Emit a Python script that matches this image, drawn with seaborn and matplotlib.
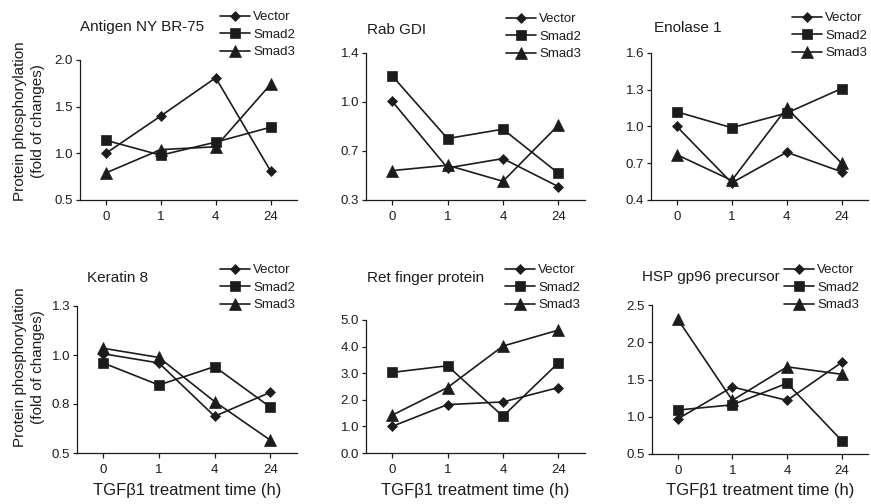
import numpy as np
import pandas as pd
import matplotlib
matplotlib.use("Agg")
import matplotlib.pyplot as plt
import seaborn as sns

# ---------------- data ----------------
times = ["0", "1", "4", "24"]
groups = ["Vector", "Smad2", "Smad3"]

antigen_vector = [1.00, 1.40, 1.81, 0.81]
antigen_smad2 = [1.14, 0.98, 1.12, 1.28]
antigen_smad3 = [0.79, 1.04, 1.07, 1.74]

rab_vector = [1.04, 0.54, 0.61, 0.40]
rab_smad2 = [1.23, 0.76, 0.83, 0.50]
rab_smad3 = [0.52, 0.56, 0.44, 0.86]

enolase_vector = [1.00, 0.54, 0.79, 0.63]
enolase_smad2 = [1.12, 0.99, 1.11, 1.31]
enolase_smad3 = [0.77, 0.56, 1.15, 0.70]

keratin_vector = [1.04, 0.99, 0.70, 0.83]
keratin_smad2 = [0.99, 0.87, 0.97, 0.75]
keratin_smad3 = [1.07, 1.02, 0.78, 0.57]

ret_vector = [1.00, 1.82, 1.92, 2.46]
ret_smad2 = [3.03, 3.28, 1.38, 3.39]
ret_smad3 = [1.42, 2.46, 4.02, 4.62]

hsp_vector = [0.97, 1.40, 1.22, 1.73]
hsp_smad2 = [1.09, 1.16, 1.45, 0.68]
hsp_smad3 = [2.31, 1.22, 1.67, 1.57]

titles = ["Antigen NY BR-75", "Rab GDI", "Enolase 1",
          "Keratin 8", "Ret finger protein", "HSP gp96 precursor"]
series = [
    [antigen_vector, antigen_smad2, antigen_smad3],
    [rab_vector, rab_smad2, rab_smad3],
    [enolase_vector, enolase_smad2, enolase_smad3],
    [keratin_vector, keratin_smad2, keratin_smad3],
    [ret_vector, ret_smad2, ret_smad3],
    [hsp_vector, hsp_smad2, hsp_smad3],
]

rows = []
for title, vals in zip(titles, series):
    for g, v in zip(groups, vals):
        for i, t in enumerate(times):
            rows.append({"panel": title, "group": g, "time": t, "pos": i, "value": v[i]})
df = pd.DataFrame(rows)

# ---------------- style ----------------
sns.set_style("ticks")
plt.rcParams["font.family"] = ["Liberation Sans", "DejaVu Sans"]
ink = "#1c1c1c"
plt.rcParams["text.color"] = ink
plt.rcParams["axes.edgecolor"] = ink
plt.rcParams["xtick.color"] = ink
plt.rcParams["ytick.color"] = ink

W, H = 871, 504
fig = plt.figure(figsize=(W / 100, H / 100), dpi=100)


def px_rect(l, t, r, b):
    return [l / W, 1 - b / H, (r - l) / W, (b - t) / H]


# axes boxes in pixels (left, top, right, bottom)
boxes = [(80, 60, 297, 200), (366, 53, 585, 200), (651, 53, 868, 200),
         (77, 306, 297, 453), (366, 320, 585, 453), (652, 305, 868, 454)]
yticks = [[0.5, 1.0, 1.5, 2.0], np.linspace(0.3, 1.4, 4), [0.4, 0.7, 1.0, 1.3, 1.6],
          np.linspace(0.5, 1.3, 4), [0, 1, 2, 3, 4, 5], [0.5, 1.0, 1.5, 2.0, 2.5]]
# title (left x, baseline y) and legend anchor (x, top y) in pixels
title_pos = [(80, 31), (367, 34), (654, 32), (87, 282), (367, 282), (642, 281)]
legend_pos = [(220, 11), (506, 13), (792, 12), (220, 264), (505, 264), (784, 264)]

markers = {"Vector": ("D", 5.0), "Smad2": ("s", 7.5), "Smad3": ("^", 8.0)}

for k, title in enumerate(titles):
    ax = fig.add_axes(px_rect(*boxes[k]))
    sub = df[df["panel"] == title]
    for g in groups:
        m, ms = markers[g]
        sns.lineplot(data=sub[sub["group"] == g], x="pos", y="value", ax=ax,
                     color=ink, lw=1.2, marker=m, markersize=ms,
                     markeredgecolor=ink, markeredgewidth=0.5,
                     clip_on=False, legend=False)

    ax.set_xlim(-0.47, 3.48)
    ax.set_xticks(range(len(times)))
    ax.set_xticklabels(times)
    ax.set_yticks(yticks[k])
    ax.set_ylim(yticks[k][0], yticks[k][-1])
    ax.yaxis.set_major_formatter(matplotlib.ticker.FormatStrFormatter("%.1f"))
    ax.set_xlabel("")
    ax.set_ylabel("")
    sns.despine(ax=ax)
    for s in ["left", "bottom"]:
        ax.spines[s].set_linewidth(0.9)
    ax.tick_params(axis="x", length=3.6, width=0.9, pad=4.5, labelsize=9.5)
    ax.tick_params(axis="y", length=3.0, width=0.9, pad=2, labelsize=9.5)

    tx, ty = title_pos[k]
    fig.text(tx / W, 1 - ty / H, title, fontsize=11, ha="left", va="baseline")

    lx, ly = legend_pos[k]
    ax.legend(handles=ax.lines[:3], labels=groups, loc="upper left",
              bbox_to_anchor=(lx / W, 1 - ly / H), bbox_transform=fig.transFigure,
              frameon=False, borderpad=0, borderaxespad=0, fontsize=9.5,
              handlelength=2.3, handletextpad=0.2, labelspacing=0.4,
              numpoints=1)

# shared labels
ylab = "Protein phosphorylation\n(fold of changes)"
for cy in (121, 367):
    fig.text(29 / W, 1 - cy / H, ylab, rotation=90, ha="center", va="center",
             fontsize=11, linespacing=1.35, multialignment="center")
for k in (3, 4, 5):
    l, t, r, b = boxes[k]
    fig.text((l + r) / 2 / W, 1 - 495 / H, "TGF\u03b21 treatment time (h)",
             ha="center", va="baseline", fontsize=12)

fig.savefig("out.png", dpi=100)
